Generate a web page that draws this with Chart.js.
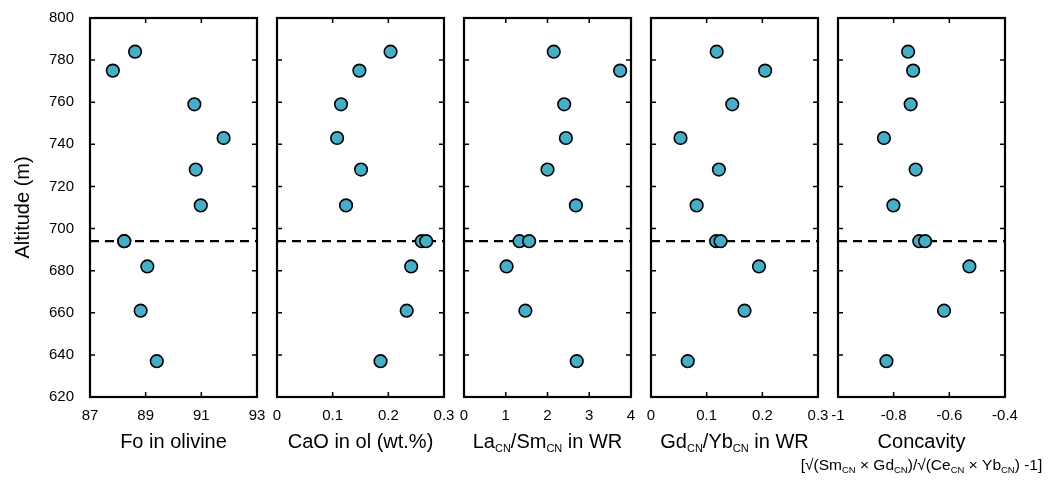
<!DOCTYPE html>
<html lang="en">
<head>
<meta charset="UTF-8">
<title>Altitude profiles</title>
<script src="https://cdn.jsdelivr.net/npm/chart.js"></script>
<style>
  html, body { margin: 0; padding: 0; background: #fff; }
  #wrap { position: relative; width: 1051px; height: 482px; overflow: hidden; }
  #wrap canvas { position: absolute; top: 0; }
</style>
</head>
<body>
<div id="wrap"></div>
<script>
// values, one entry per sample (top of section first)
const altitude   = [784, 775, 759, 743, 728, 711, 694, 694, 682, 661, 637];
const foOlivine  = [88.62, 87.82, 90.75, 91.80, 90.80, 90.98, 88.23, 88.23, 89.06, 88.82, 89.40];
const caoOlivine = [0.204, 0.148, 0.115, 0.108, 0.151, 0.124, 0.260, 0.268, 0.241, 0.233, 0.186];
const laSm       = [2.15, 3.74, 2.40, 2.44, 2.00, 2.68, 1.33, 1.56, 1.02, 1.47, 2.70];
const gdYb       = [0.118, 0.205, 0.146, 0.053, 0.122, 0.082, 0.117, 0.125, 0.194, 0.168, 0.066];
const concavity  = [-0.748, -0.730, -0.739, -0.835, -0.721, -0.801, -0.708, -0.687, -0.528, -0.619, -0.826];
const boundaryAltitude = 694;

const altTicks  = [620, 640, 660, 680, 700, 720, 740, 760, 780, 800];
const foTicks   = [87, 89, 91, 93];
const caoTicks  = [0, 0.1, 0.2, 0.3];
const laSmTicks = [0, 1, 2, 3, 4];
const gdYbTicks = [0, 0.1, 0.2, 0.3];
const concTicks = [-1, -0.8, -0.6, -0.4];

const xTitles = ['Fo in olivine', 'CaO in ol (wt.%)', 'La_{CN}/Sm_{CN} in WR', 'Gd_{CN}/Yb_{CN} in WR', 'Concavity'];
const concavityNote = '[√(Sm_{CN} × Gd_{CN})/√(Ce_{CN} × Yb_{CN}) -1]';
const yTitle = 'Altitude (m)';

const FONT = "'Liberation Sans', Arial, sans-serif";
const dotColor = '#46aec6';

const panels = [
  { values: foOlivine,  ticks: foTicks,   title: xTitles[0] },
  { values: caoOlivine, ticks: caoTicks,  title: xTitles[1] },
  { values: laSm,       ticks: laSmTicks, title: xTitles[2] },
  { values: gdYb,       ticks: gdYbTicks, title: xTitles[3] },
  { values: concavity,  ticks: concTicks, title: xTitles[4], note: concavityNote }
];

// text with _{...} subscripts, centred on cx, baseline at y
function drawRich(ctx, str, cx, y, size, subSize) {
  const parts = str.split(/(_\{[^}]*\})/).filter(s => s.length);
  const segs = parts.map(p => {
    const sub = p.startsWith('_{');
    return { text: sub ? p.slice(2, -1) : p, sub };
  });
  let total = 0;
  segs.forEach(s => {
    ctx.font = (s.sub ? subSize : size) + 'px ' + FONT;
    s.w = ctx.measureText(s.text).width;
    total += s.w;
  });
  let x = cx - total / 2;
  ctx.textAlign = 'left';
  ctx.textBaseline = 'alphabetic';
  segs.forEach(s => {
    ctx.font = (s.sub ? subSize : size) + 'px ' + FONT;
    ctx.fillText(s.text, x, s.sub ? y + size * 0.18 : y);
    x += s.w;
  });
}

const framePlugin = {
  id: 'frame',
  afterDraw(chart, args, opts) {
    const { ctx, chartArea: a, scales: { x, y } } = chart;
    ctx.save();
    ctx.strokeStyle = '#000';
    ctx.lineWidth = 1.5;
    ctx.beginPath();
    x.ticks.forEach(t => {
      const px = x.getPixelForValue(t.value);
      if (px <= a.left + 1 || px >= a.right - 1) return;
      ctx.moveTo(px, a.top); ctx.lineTo(px, a.top + 5);
      ctx.moveTo(px, a.bottom); ctx.lineTo(px, a.bottom - 5);
    });
    y.ticks.forEach(t => {
      const py = y.getPixelForValue(t.value);
      if (py <= a.top + 1 || py >= a.bottom - 1) return;
      ctx.moveTo(a.left, py); ctx.lineTo(a.left + 5, py);
      ctx.moveTo(a.right, py); ctx.lineTo(a.right - 5, py);
    });
    ctx.stroke();
    ctx.lineWidth = 2.2;
    ctx.strokeRect(a.left, a.top, a.right - a.left, a.bottom - a.top);
    ctx.fillStyle = '#000';
    const cx = (a.left + a.right) / 2;
    drawRich(ctx, opts.title, cx, a.bottom + 51, 20, 11);
    if (opts.note) drawRich(ctx, opts.note, cx, a.bottom + 73, 15.5, 9.5);
    ctx.restore();
  }
};

const wrap = document.getElementById('wrap');
const plotW = 167, step = 187, firstLeft = 90;

panels.forEach((p, i) => {
  const padL = i === 0 ? firstLeft : 45;
  const padR = i === panels.length - 1 ? 1051 - (firstLeft + step * i + plotW) : 20;
  const canvas = document.createElement('canvas');
  canvas.width = padL + plotW + padR;
  canvas.height = 482;
  canvas.style.left = (firstLeft + step * i - padL) + 'px';
  wrap.appendChild(canvas);

  const xMin = p.ticks[0], xMax = p.ticks[p.ticks.length - 1];
  const pts = altitude.map((alt, k) => ({ x: p.values[k], y: alt }));

  new Chart(canvas, {
    type: 'scatter',
    data: {
      datasets: [
        {
          data: pts,
          order: 0,
          pointRadius: 6.3,
          pointBackgroundColor: dotColor,
          pointBorderColor: '#000',
          pointBorderWidth: 1.6
        },
        {
          data: [{ x: xMin, y: boundaryAltitude }, { x: xMax, y: boundaryAltitude }],
          order: 1,
          showLine: true,
          pointRadius: 0,
          borderColor: '#000',
          borderWidth: 2.2,
          borderDash: [9, 6]
        }
      ]
    },
    options: {
      responsive: false,
      animation: false,
      events: [],
      layout: { padding: { top: 18, right: padR, left: 0, bottom: 0 } },
      plugins: {
        legend: { display: false },
        tooltip: { enabled: false },
        frame: { title: p.title, note: p.note }
      },
      scales: {
        x: {
          type: 'linear',
          min: xMin,
          max: xMax,
          grid: { display: false },
          border: { display: false },
          afterBuildTicks: s => { s.ticks = p.ticks.map(v => ({ value: v })); },
          afterFit: s => { s.height = 85; },
          ticks: {
            color: '#000',
            font: { family: FONT, size: 15 },
            padding: 2,
            maxRotation: 0,
            autoSkip: false,
            callback: v => String(+v.toFixed(3))
          }
        },
        y: {
          type: 'linear',
          min: altTicks[0],
          max: altTicks[altTicks.length - 1],
          grid: { display: false },
          border: { display: false },
          afterBuildTicks: s => { s.ticks = altTicks.map(v => ({ value: v })); },
          afterFit: s => { s.width = padL; },
          ticks: {
            display: i === 0,
            color: '#000',
            font: { family: FONT, size: 15 },
            padding: 8
          },
          title: {
            display: i === 0,
            text: yTitle,
            color: '#000',
            font: { family: FONT, size: 20 },
            padding: { top: 11 }
          }
        }
      }
    },
    plugins: [framePlugin]
  });
});
</script>
</body>
</html>
